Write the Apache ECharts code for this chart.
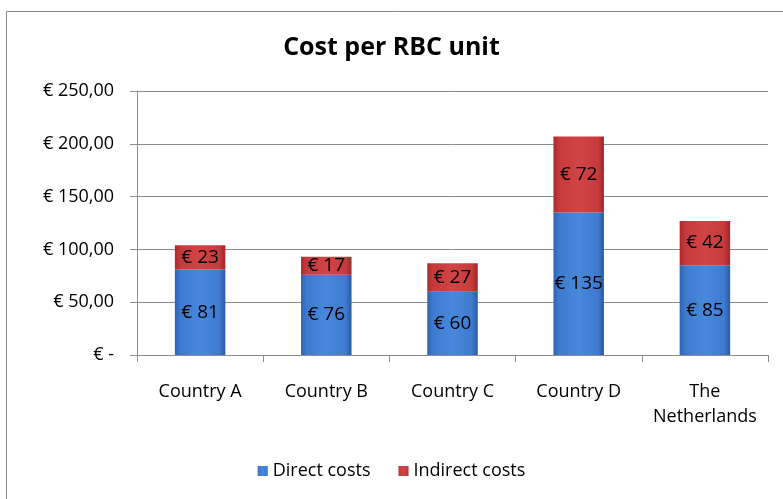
<!DOCTYPE html>
<html>
<head>
<meta charset="utf-8">
<script src="https://cdn.jsdelivr.net/npm/echarts@6/dist/echarts.min.js"></script>
<style>
  html, body { margin: 0; padding: 0; background: #fff; }
  #chart { width: 783px; height: 499px; }
</style>
</head>
<body>
<div id="chart"></div>
<script>
const categories = ['Country A', 'Country B', 'Country C', 'Country D', 'The\nNetherlands'];
const directCosts = [81, 76, 60, 135, 85];
const indirectCosts = [23, 17, 27, 72, 42];
const seriesNames = ['Direct costs', 'Indirect costs'];
const yTicks = [0, 50, 100, 150, 200, 250];

const FONT = '"Open Sans", Lato, sans-serif';

const blueFill = new echarts.graphic.LinearGradient(0, 0, 1, 0, [
  { offset: 0, color: '#2f63b0' },
  { offset: 0.12, color: '#3f7bd0' },
  { offset: 0.5, color: '#4788da' },
  { offset: 0.88, color: '#3f7bd0' },
  { offset: 1, color: '#2a5aa3' }
]);
const redFill = new echarts.graphic.LinearGradient(0, 0, 1, 0, [
  { offset: 0, color: '#a92b2d' },
  { offset: 0.12, color: '#c83b3d' },
  { offset: 0.5, color: '#d14446' },
  { offset: 0.88, color: '#c83b3d' },
  { offset: 1, color: '#9e2729' }
]);

function euroAxis(v) {
  if (v === 0) return '€ -';
  return '€ ' + v.toFixed(2).replace('.', ',');
}

const chart = echarts.init(document.getElementById('chart'), null, { renderer: 'canvas' });

chart.setOption({
  animation: false,
  backgroundColor: '#fff',
  graphic: [{
    type: 'rect',
    shape: { x: 6.5, y: 11.5, width: 800, height: 500 },
    style: { fill: 'none', stroke: '#8c8c8c', lineWidth: 1 },
    silent: true
  }],
  title: {
    text: 'Cost per RBC unit',
    left: 'center',
    top: 30,
    textStyle: { fontFamily: FONT, fontSize: 25, fontWeight: 'bold', color: '#000' }
  },
  legend: {
    bottom: 14,
    left: 'center',
    itemWidth: 10,
    itemHeight: 10,
    itemGap: 28,
    icon: 'rect',
    data: seriesNames,
    textStyle: { fontFamily: FONT, fontSize: 18, color: '#000', padding: [0, 0, 0, 0] }
  },
  grid: { left: 137, right: 15, top: 91, bottom: 144 },
  xAxis: {
    type: 'category',
    data: categories,
    axisLine: { lineStyle: { color: '#8c8c8c' } },
    axisTick: { show: true, alignWithLabel: false, length: 7, lineStyle: { color: '#8c8c8c' } },
    axisLabel: { interval: 0, fontFamily: FONT, fontSize: 18, color: '#000', margin: 24, lineHeight: 25 }
  },
  yAxis: {
    type: 'value',
    min: 0,
    max: 250,
    interval: 50,
    axisLine: { show: true, lineStyle: { color: '#8c8c8c' } },
    axisTick: { show: true, length: 7, lineStyle: { color: '#8c8c8c' } },
    splitLine: { lineStyle: { color: '#8c8c8c' } },
    axisLabel: {
      fontFamily: FONT, fontSize: 18, color: '#000', margin: 23,
      formatter: function (v) { return yTicks.indexOf(v) >= 0 ? euroAxis(v) : ''; }
    }
  },
  series: [
    {
      name: seriesNames[0],
      type: 'bar',
      stack: 'cost',
      barWidth: '40%',
      data: directCosts,
      itemStyle: { color: blueFill },
      label: {
        show: true, position: 'inside', fontFamily: FONT, fontSize: 19, color: '#000',
        formatter: p => '€ ' + p.value
      }
    },
    {
      name: seriesNames[1],
      type: 'bar',
      stack: 'cost',
      barWidth: '40%',
      data: indirectCosts,
      itemStyle: { color: redFill },
      label: {
        show: true, position: 'inside', fontFamily: FONT, fontSize: 19, color: '#000',
        formatter: p => '€ ' + p.value
      }
    }
  ],
  color: ['#3f7bd0', '#c83b3d']
});
</script>
</body>
</html>
